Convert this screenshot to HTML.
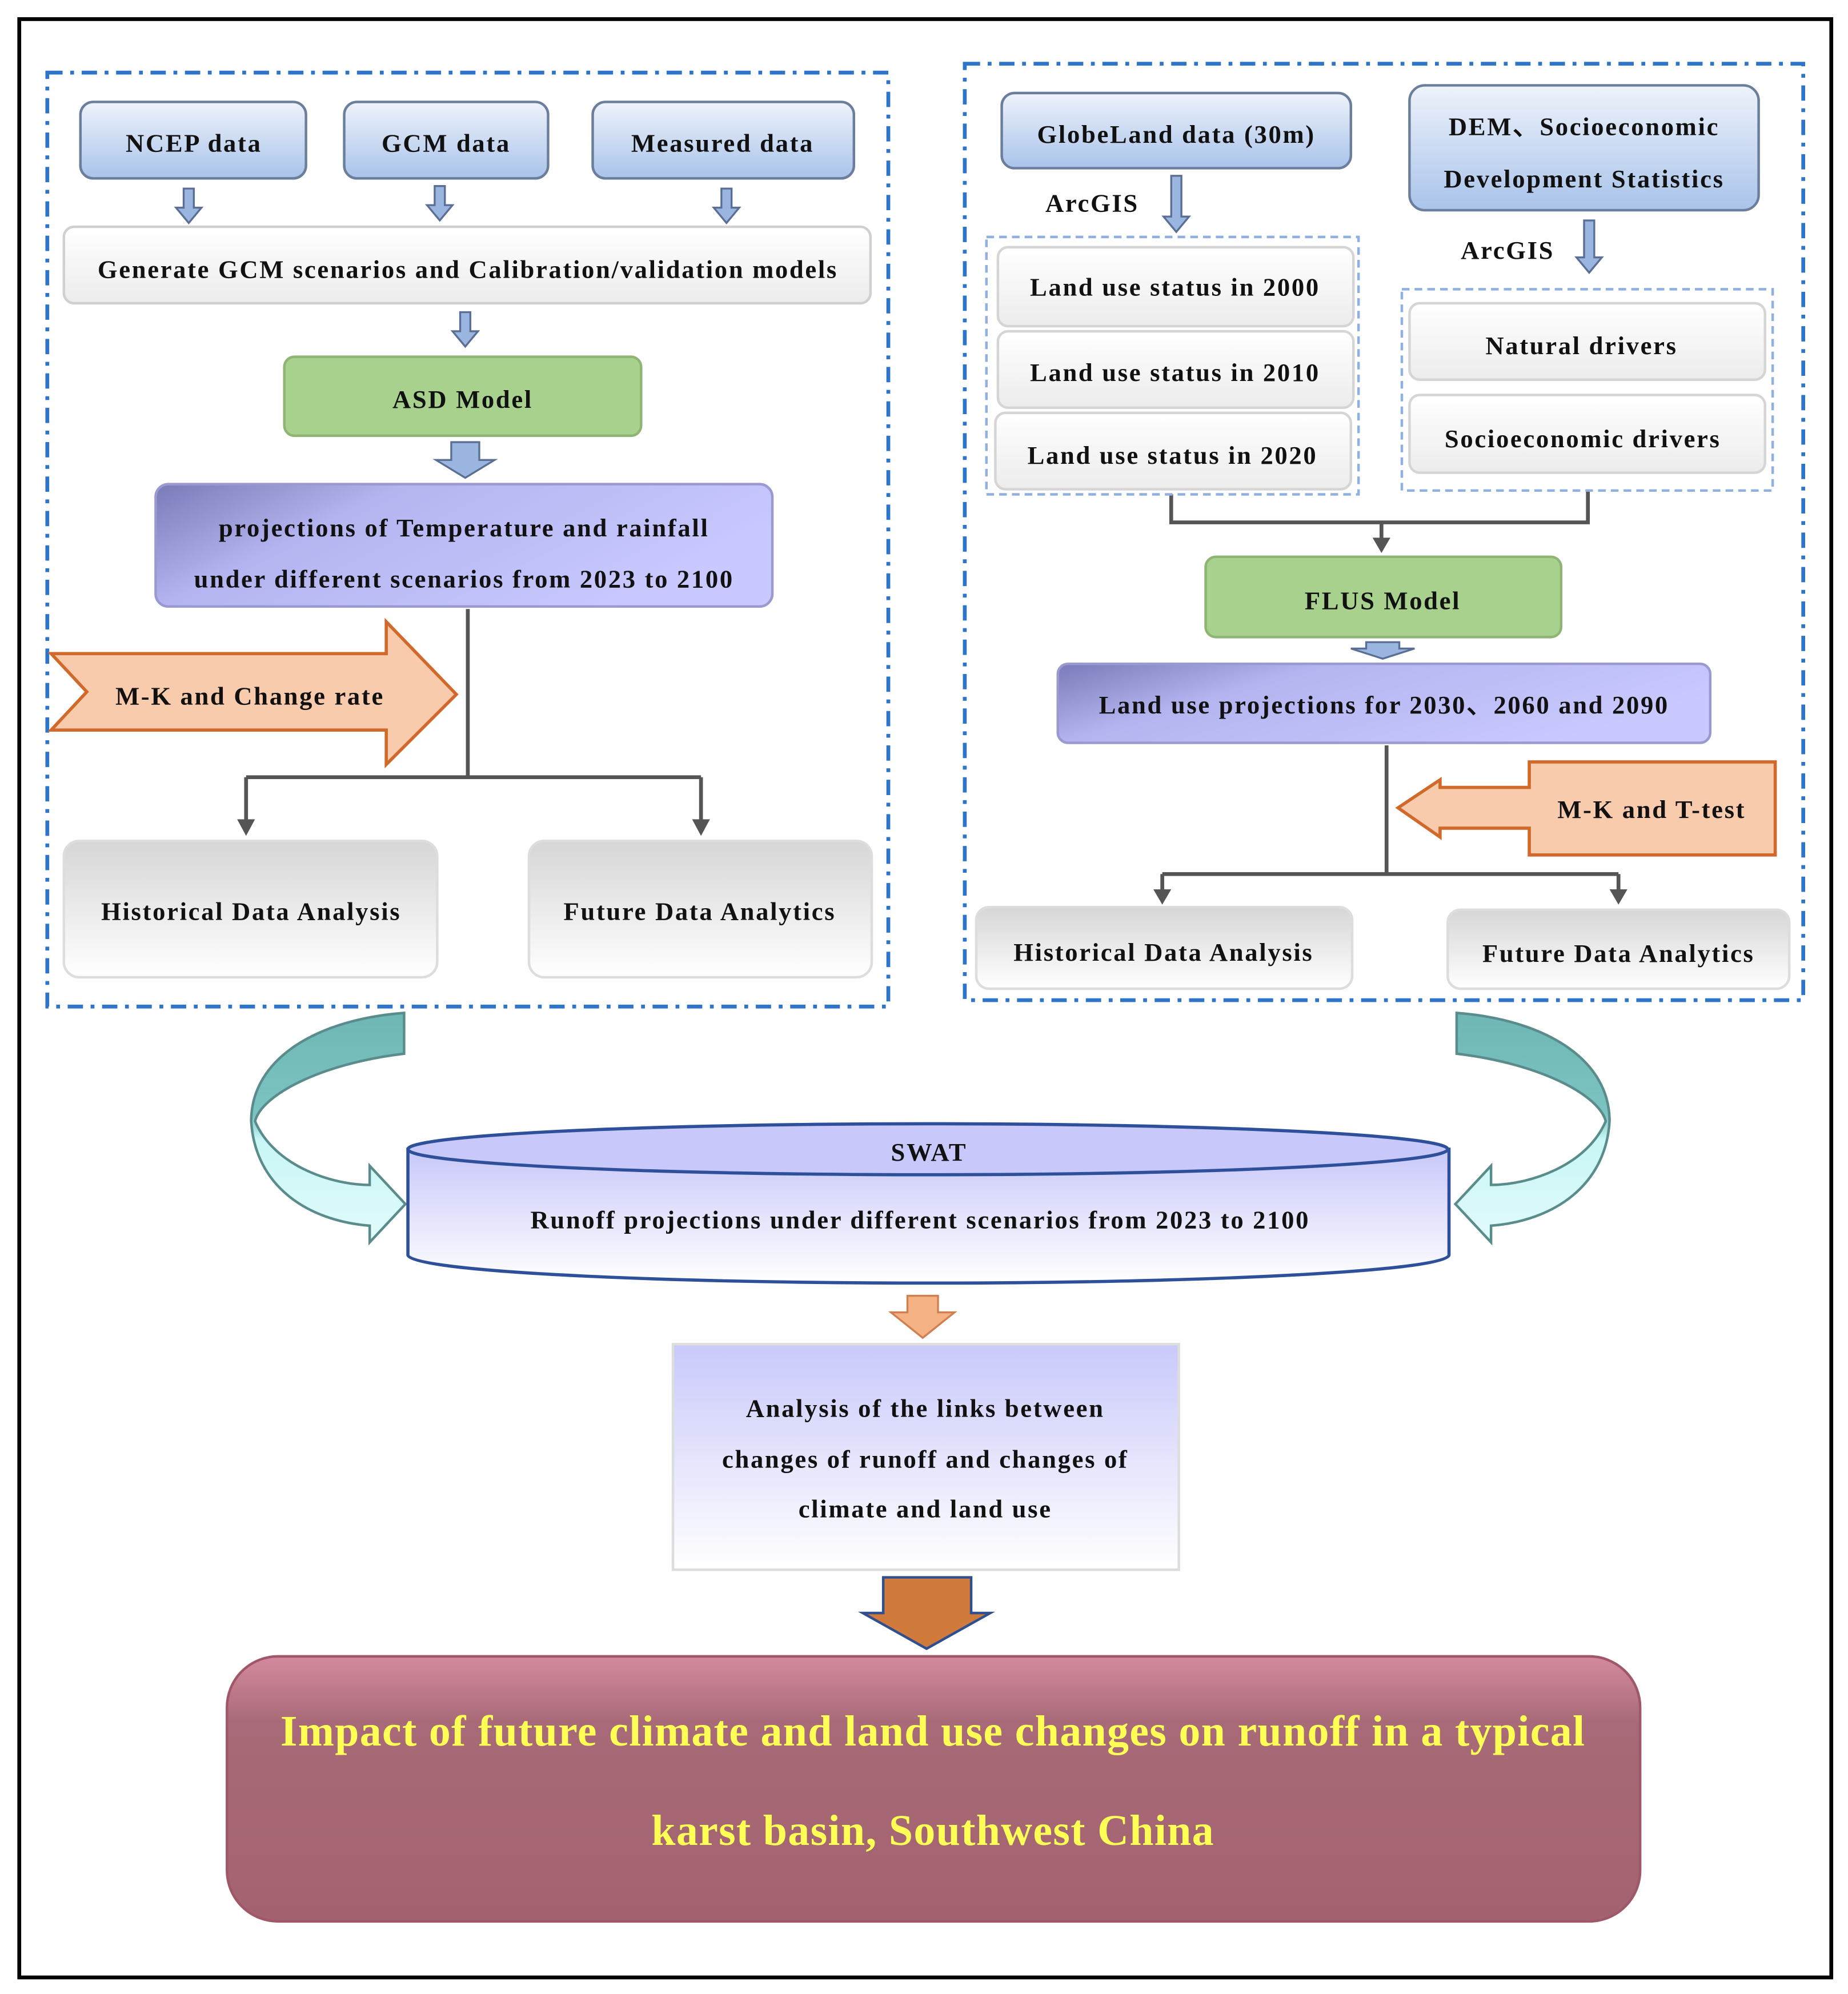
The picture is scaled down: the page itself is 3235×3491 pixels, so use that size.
<!DOCTYPE html>
<html><head><meta charset="utf-8"><style>
html,body{margin:0;padding:0;background:#fff}
svg{display:block}
text{font-family:"Liberation Serif",serif;font-weight:bold;fill:#111;letter-spacing:1.2px}
</style></head><body>
<svg width="3235" height="3491" viewBox="0 0 1450 1565" xmlns="http://www.w3.org/2000/svg">
<defs>
<linearGradient id="blue" x1="0" y1="0" x2="0" y2="1"><stop offset="0" stop-color="#eef3fb"/><stop offset="1" stop-color="#a9c3ea"/></linearGradient>
<linearGradient id="gray" x1="0" y1="0" x2="0" y2="1"><stop offset="0" stop-color="#d6d6d6"/><stop offset="1" stop-color="#ffffff"/></linearGradient>
<linearGradient id="gray2" x1="0" y1="0" x2="0" y2="1"><stop offset="0" stop-color="#ffffff"/><stop offset="1" stop-color="#ececec"/></linearGradient>
<linearGradient id="purp" x1="0" y1="0" x2="1" y2="0.4"><stop offset="0" stop-color="#7a7ab8"/><stop offset="0.35" stop-color="#b4b4f0"/><stop offset="1" stop-color="#c9c9ff"/></linearGradient>
<linearGradient id="cyl" x1="0" y1="0" x2="0" y2="1"><stop offset="0" stop-color="#c8c8fa"/><stop offset="1" stop-color="#ffffff"/></linearGradient>
<linearGradient id="ana" x1="0" y1="0" x2="0" y2="1"><stop offset="0" stop-color="#c9c9fb"/><stop offset="1" stop-color="#ffffff"/></linearGradient>
<linearGradient id="fin" x1="0" y1="0" x2="0" y2="1"><stop offset="0" stop-color="#d48a9e"/><stop offset="0.25" stop-color="#a86a78"/><stop offset="1" stop-color="#a3626f"/></linearGradient>
<linearGradient id="teal" x1="0" y1="0" x2="0" y2="1"><stop offset="0" stop-color="#6fb7b5"/><stop offset="0.45" stop-color="#7cc4c2"/><stop offset="0.55" stop-color="#c8f6f6"/><stop offset="1" stop-color="#e2fbfb"/></linearGradient>
</defs>
<rect x="15" y="15" width="1422" height="1537" fill="none" stroke="#000" stroke-width="3"/>
<rect x="37" y="57" width="660" height="733" fill="none" stroke="#2e74c8" stroke-width="3" stroke-dasharray="12 6 3 6"/>
<rect x="757" y="50" width="658" height="735" fill="none" stroke="#2e74c8" stroke-width="3" stroke-dasharray="12 6 3 6"/>

<g stroke="#6b7f9c" stroke-width="2">
<rect x="63" y="80" width="177" height="60" rx="10" fill="url(#blue)"/>
<rect x="270" y="80" width="160" height="60" rx="10" fill="url(#blue)"/>
<rect x="465" y="80" width="205" height="60" rx="10" fill="url(#blue)"/>
<rect x="786" y="73" width="274" height="59" rx="10" fill="url(#blue)"/>
<rect x="1106" y="67" width="274" height="98" rx="12" fill="url(#blue)"/>
</g>
<g text-anchor="middle" font-size="20">
<text x="152" y="119">NCEP data</text>
<text x="350" y="119">GCM data</text>
<text x="567" y="119">Measured data</text>
<text x="923" y="112">GlobeLand data (30m)</text>
<text x="1243" y="106">DEM、Socioeconomic</text>
<text x="1243" y="147">Development Statistics</text>
</g>
<g fill="#9ab5e0" stroke="#5a6f93" stroke-width="1.5">
<path d="M144,148h8v15h6l-10,12l-10,-12h6z"/>
<path d="M341,146h8v15h6l-10,12l-10,-12h6z"/>
<path d="M566,148h8v15h6l-10,12l-10,-12h6z"/>
<path d="M361,245h8v15h6l-10,12l-10,-12h6z"/>
<path d="M354,347h22v14h12l-23,14l-23,-14h12z"/>
<path d="M919,138h8v32h6l-10,12l-10,-12h6z"/>
<path d="M1243,173h8v29h6l-10,12l-10,-12h6z"/>
<path d="M1072,504h26v5h12l-25,8l-25,-8h12z"/>
</g>
<rect x="50" y="178" width="633" height="60" rx="8" fill="url(#gray2)" stroke="#d0d0d0" stroke-width="2"/>
<text x="367" y="218" text-anchor="middle" font-size="20">Generate GCM scenarios and Calibration/validation models</text>
<rect x="223" y="280" width="280" height="62" rx="8" fill="#a9d18e" stroke="#8fb476" stroke-width="2"/>
<text x="363" y="320" text-anchor="middle" font-size="20">ASD Model</text>
<rect x="122" y="380" width="484" height="96" rx="10" fill="url(#purp)" stroke="#9a9ad0" stroke-width="2"/>
<text x="364" y="421" text-anchor="middle" font-size="20">projections of Temperature and rainfall</text>
<text x="364" y="461" text-anchor="middle" font-size="20">under different scenarios from 2023 to 2100</text>
<g stroke="#555" stroke-width="3" fill="none">
<path d="M367,478V610M193,610H550M193,610V645M550,610V645"/>
<path d="M919,388V410H1246V385M1084,410V425"/>
<path d="M1088,585V686M912,686H1270M912,686V700M1270,686V700"/>
</g>
<g fill="#555">
<path d="M186,643h14l-7,13z"/><path d="M543,643h14l-7,13z"/>
<path d="M1077,422h14l-7,12z"/>
<path d="M905,698h14l-7,12z"/><path d="M1263,698h14l-7,12z"/>
</g>
<path d="M40,513H303V488L358,545L303,600V573H40L68,543Z" fill="#f8cbad" stroke="#d0692a" stroke-width="2.5"/>
<text x="196" y="553" text-anchor="middle" font-size="20">M-K and Change rate</text>
<rect x="50" y="660" width="293" height="107" rx="12" fill="url(#gray)" stroke="#ddd" stroke-width="2"/>
<rect x="415" y="660" width="269" height="107" rx="12" fill="url(#gray)" stroke="#ddd" stroke-width="2"/>
<text x="197" y="722" text-anchor="middle" font-size="20">Historical Data Analysis</text>
<text x="549" y="722" text-anchor="middle" font-size="20">Future Data Analytics</text>

<text x="857" y="166" text-anchor="middle" font-size="20">ArcGIS</text>
<text x="1183" y="203" text-anchor="middle" font-size="20">ArcGIS</text>
<rect x="774" y="186" width="292" height="202" fill="none" stroke="#8fb0e0" stroke-width="2" stroke-dasharray="6 4"/>
<rect x="1100" y="227" width="291" height="158" fill="none" stroke="#8fb0e0" stroke-width="2" stroke-dasharray="6 4"/>
<g fill="url(#gray2)" stroke="#d5d5d5" stroke-width="2">
<rect x="783" y="194" width="279" height="62" rx="8"/>
<rect x="783" y="260" width="279" height="60" rx="8"/>
<rect x="781" y="324" width="279" height="60" rx="8"/>
<rect x="1106" y="238" width="279" height="60" rx="8"/>
<rect x="1106" y="310" width="279" height="61" rx="8"/>
</g>
<g text-anchor="middle" font-size="20">
<text x="922" y="232">Land use status in 2000</text>
<text x="922" y="299">Land use status in 2010</text>
<text x="920" y="364">Land use status in 2020</text>
<text x="1241" y="278">Natural drivers</text>
<text x="1242" y="351">Socioeconomic drivers</text>
</g>
<rect x="946" y="437" width="279" height="63" rx="8" fill="#a9d18e" stroke="#8fb476" stroke-width="2"/>
<text x="1085" y="478" text-anchor="middle" font-size="20">FLUS Model</text>
<rect x="830" y="521" width="512" height="62" rx="8" fill="url(#purp)" stroke="#9a9ad0" stroke-width="2"/>
<text x="1086" y="560" text-anchor="middle" font-size="20">Land use projections for 2030、2060 and 2090</text>
<path d="M1200,598H1393V671H1200V650H1130V657L1097,634L1130,612V618H1200Z" fill="#f8cbad" stroke="#d0692a" stroke-width="2.5"/>
<text x="1296" y="642" text-anchor="middle" font-size="20">M-K and T-test</text>
<rect x="766" y="712" width="295" height="64" rx="10" fill="url(#gray)" stroke="#ddd" stroke-width="2"/>
<rect x="1136" y="714" width="268" height="62" rx="10" fill="url(#gray)" stroke="#ddd" stroke-width="2"/>
<text x="913" y="754" text-anchor="middle" font-size="20">Historical Data Analysis</text>
<text x="1270" y="755" text-anchor="middle" font-size="20">Future Data Analytics</text>

<path d="M317,795V827C250,835 205,860 200,880C215,915 260,930 290,930V915L318,945L290,975V962C240,958 200,930 197,880C197,830 250,800 317,795Z" fill="url(#teal)" stroke="#5b8c8c" stroke-width="2"/>
<path d="M1143,795V827C1210,835 1255,860 1260,880C1245,915 1200,930 1170,930V915L1142,945L1170,975V962C1220,958 1260,930 1263,880C1263,830 1210,800 1143,795Z" fill="url(#teal)" stroke="#5b8c8c" stroke-width="2"/>

<path d="M320,902V985A408,22 0 0 0 1137,985V902Z" fill="url(#cyl)" stroke="#2e4f9a" stroke-width="2.5"/>
<ellipse cx="728" cy="902" rx="408" ry="20" fill="#c8c8fa" stroke="#2e4f9a" stroke-width="2.5"/>
<text x="729" y="911" text-anchor="middle" font-size="20">SWAT</text>
<text x="722" y="964" text-anchor="middle" font-size="20">Runoff projections under different scenarios from 2023 to 2100</text>
<path d="M712,1017h24v13h13l-25,20l-25,-20h13z" fill="#f4b183" stroke="#d08050" stroke-width="1.5"/>
<rect x="528" y="1055" width="397" height="177" fill="url(#ana)" stroke="#ddd" stroke-width="2"/>
<g text-anchor="middle" font-size="20">
<text x="726" y="1112">Analysis of the links between</text>
<text x="726" y="1152">changes of runoff and changes of</text>
<text x="726" y="1191">climate and land use</text>
</g>
<path d="M693,1238h69v28h15l-50,28l-50,-28h16z" fill="#d07a3c" stroke="#2f4f8f" stroke-width="2"/>
<rect x="178" y="1300" width="1109" height="208" rx="40" fill="url(#fin)" stroke="#a05868" stroke-width="2"/>
<g text-anchor="middle" font-size="34">
<text x="732" y="1370" style="fill:#ffff55;letter-spacing:0.6px">Impact of future climate and land use changes on runoff in a typical</text>
<text x="732" y="1448" style="fill:#ffff55;letter-spacing:0.6px">karst basin, Southwest China</text>
</g>
</svg>
</body></html>
